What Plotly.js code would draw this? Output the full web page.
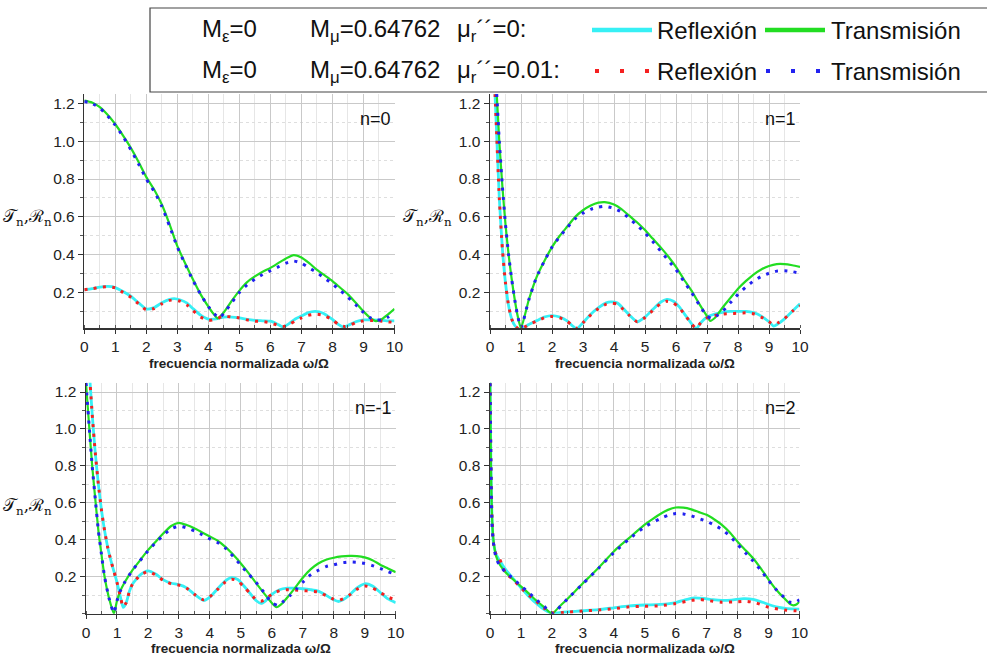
<!DOCTYPE html>
<html>
<head>
<meta charset="utf-8">
<script src="https://cdn.plot.ly/plotly-3.0.1.min.js"></script>
<style>html,body{margin:0;padding:0;background:#fff;}#chart{width:987px;height:656px;}</style>
</head>
<body>
<div id="chart"></div>
<script>
// ---------------- DATA ----------------
// Panel n=0
const xR_n0  = [0,0.25,0.5,0.75,1,1.25,1.5,1.75,2,2.25,2.5,2.75,2.9,3.1,3.3,3.5,3.75,4,4.25,4.5,4.75,5,5.25,5.5,5.75,6,6.2,6.4,6.6,6.8,7,7.2,7.45,7.7,8,8.2,8.35,8.5,8.75,9,9.25,9.5,9.75,10];
const yR_n0  = [0.214,0.22,0.228,0.232,0.226,0.205,0.18,0.145,0.113,0.12,0.145,0.163,0.167,0.16,0.145,0.115,0.08,0.059,0.06,0.07,0.07,0.065,0.057,0.052,0.05,0.048,0.035,0.018,0.035,0.06,0.075,0.092,0.1,0.09,0.057,0.03,0.018,0.025,0.045,0.055,0.055,0.054,0.05,0.05];
const xT_n0  = [0,0.25,0.5,0.75,1,1.25,1.5,1.75,2,2.25,2.5,2.75,3,3.25,3.5,3.75,4,4.15,4.3,4.5,4.75,5,5.25,5.5,5.75,6,6.25,6.5,6.75,7,7.25,7.5,7.75,8,8.25,8.5,8.75,9,9.2,9.4,9.6,9.8,10];
const yT_n0  = [1.215,1.205,1.18,1.14,1.09,1.03,0.965,0.89,0.81,0.745,0.665,0.56,0.445,0.355,0.27,0.19,0.125,0.09,0.063,0.095,0.155,0.21,0.255,0.285,0.31,0.33,0.355,0.38,0.398,0.385,0.355,0.32,0.29,0.26,0.225,0.19,0.145,0.1,0.068,0.048,0.06,0.085,0.113];
const xRl_n0 = [0,0.25,0.5,0.75,1,1.25,1.5,1.75,2,2.25,2.5,2.75,2.9,3.1,3.3,3.5,3.75,4,4.25,4.5,4.75,5,5.25,5.5,5.75,6,6.2,6.4,6.6,6.8,7,7.2,7.45,7.7,8,8.2,8.4,8.6,8.75,9,9.25,9.5,9.75,10];
const yRl_n0 = [0.214,0.22,0.227,0.23,0.224,0.2,0.175,0.14,0.108,0.115,0.14,0.158,0.16,0.153,0.135,0.105,0.07,0.052,0.06,0.075,0.07,0.065,0.055,0.048,0.046,0.04,0.028,0.02,0.03,0.05,0.065,0.078,0.085,0.08,0.055,0.03,0.02,0.03,0.04,0.05,0.052,0.05,0.045,0.042];
const xTl_n0 = [0,0.25,0.5,0.75,1,1.25,1.5,1.75,2,2.25,2.5,2.75,3,3.25,3.5,3.75,4,4.15,4.35,4.5,4.75,5,5.25,5.5,5.75,6,6.25,6.5,6.75,7,7.25,7.5,7.75,8,8.25,8.5,8.75,9,9.2,9.4,9.6,9.8,10];
const yTl_n0 = [1.21,1.2,1.175,1.135,1.085,1.025,0.955,0.88,0.8,0.735,0.655,0.55,0.44,0.35,0.265,0.19,0.125,0.095,0.065,0.09,0.145,0.2,0.24,0.27,0.295,0.315,0.335,0.355,0.366,0.355,0.33,0.305,0.275,0.245,0.21,0.175,0.135,0.095,0.068,0.055,0.055,0.07,0.095];

// Panel n=1
const xR_n1  = [0.15,0.2,0.3,0.4,0.5,0.6,0.7,0.8,0.9,1.0,1.25,1.5,1.75,2,2.25,2.5,2.65,2.8,3,3.25,3.5,3.75,3.9,4.1,4.3,4.5,4.75,5,5.25,5.5,5.7,5.9,6.1,6.3,6.5,6.65,6.8,7,7.25,7.5,7.75,8,8.25,8.5,8.75,9,9.15,9.3,9.5,9.75,10];
const yR_n1  = [1.3,1.1,0.7,0.43,0.25,0.13,0.06,0.025,0.01,0.005,0.03,0.05,0.07,0.078,0.07,0.048,0.025,0.008,0.04,0.085,0.12,0.145,0.15,0.145,0.115,0.08,0.045,0.07,0.11,0.148,0.163,0.155,0.125,0.08,0.035,0.008,0.04,0.07,0.085,0.095,0.1,0.1,0.1,0.093,0.075,0.045,0.022,0.035,0.06,0.1,0.14];
const xT_n1  = [0.2,0.3,0.4,0.5,0.6,0.7,0.8,0.9,1.0,1.25,1.5,1.75,2,2.25,2.5,2.75,3,3.25,3.5,3.7,4,4.25,4.5,4.75,5,5.25,5.5,5.75,6,6.25,6.5,6.75,7,7.1,7.25,7.5,7.75,8,8.25,8.5,8.75,9,9.25,9.5,9.75,10];
const yT_n1  = [1.3,1.0,0.76,0.56,0.4,0.27,0.16,0.07,0.012,0.16,0.28,0.365,0.44,0.5,0.55,0.6,0.635,0.66,0.675,0.678,0.665,0.64,0.605,0.57,0.53,0.485,0.44,0.39,0.335,0.27,0.21,0.14,0.075,0.05,0.065,0.12,0.17,0.22,0.26,0.295,0.322,0.34,0.35,0.35,0.344,0.335];
const xRl_n1 = [0.15,0.2,0.3,0.4,0.5,0.6,0.7,0.8,0.9,1.0,1.25,1.5,1.75,2,2.25,2.5,2.65,2.8,3,3.25,3.5,3.75,3.9,4.1,4.3,4.5,4.75,5,5.25,5.5,5.7,5.9,6.1,6.3,6.5,6.65,6.8,7,7.25,7.5,7.75,8,8.25,8.5,8.75,9,9.15,9.3,9.5,9.75,10];
const yRl_n1 = [1.3,1.1,0.7,0.43,0.25,0.13,0.06,0.025,0.01,0.006,0.03,0.048,0.066,0.073,0.066,0.046,0.025,0.01,0.04,0.082,0.115,0.138,0.143,0.138,0.11,0.078,0.045,0.068,0.105,0.14,0.153,0.147,0.12,0.078,0.035,0.01,0.04,0.065,0.078,0.085,0.088,0.09,0.092,0.087,0.07,0.045,0.03,0.04,0.062,0.1,0.13];
const xTl_n1 = [0.2,0.3,0.4,0.5,0.6,0.7,0.8,0.9,1.0,1.25,1.5,1.75,2,2.25,2.5,2.75,3,3.25,3.5,3.7,4,4.25,4.5,4.75,5,5.25,5.5,5.75,6,6.25,6.5,6.75,7,7.15,7.3,7.5,7.75,8,8.25,8.5,8.75,9,9.25,9.5,9.75,10];
const yTl_n1 = [1.3,1.0,0.76,0.56,0.4,0.27,0.16,0.07,0.015,0.16,0.28,0.365,0.44,0.495,0.545,0.59,0.62,0.64,0.652,0.656,0.645,0.625,0.59,0.555,0.515,0.47,0.42,0.37,0.32,0.26,0.2,0.135,0.075,0.062,0.075,0.1,0.145,0.19,0.228,0.26,0.285,0.302,0.313,0.315,0.31,0.302];

// Panel n=-1
const xR_nm1  = [0.1,0.2,0.3,0.4,0.5,0.6,0.7,0.8,0.9,1.0,1.1,1.2,1.3,1.4,1.5,1.75,2,2.25,2.5,2.75,3,3.25,3.5,3.8,4,4.25,4.5,4.7,4.9,5.1,5.3,5.5,5.65,5.8,6,6.25,6.5,6.75,7,7.25,7.5,7.75,8,8.15,8.3,8.5,8.75,9,9.25,9.5,9.75,10];
const yR_nm1  = [1.33,1.08,0.87,0.7,0.56,0.45,0.36,0.29,0.23,0.17,0.1,0.034,0.06,0.12,0.16,0.21,0.232,0.215,0.183,0.165,0.157,0.14,0.105,0.072,0.09,0.135,0.178,0.195,0.185,0.15,0.11,0.07,0.056,0.07,0.105,0.13,0.138,0.138,0.135,0.13,0.122,0.1,0.075,0.066,0.075,0.1,0.14,0.162,0.15,0.115,0.08,0.06];
const xT_nm1  = [0,0.1,0.2,0.3,0.4,0.5,0.6,0.75,0.9,1.0,1.1,1.25,1.5,1.75,2,2.25,2.5,2.75,3,3.25,3.5,3.75,4,4.25,4.5,4.75,5,5.25,5.5,5.75,6,6.15,6.3,6.5,6.75,7,7.25,7.5,7.75,8,8.25,8.5,8.75,9,9.25,9.5,9.75,10];
const yT_nm1  = [1.25,1.02,0.8,0.62,0.45,0.32,0.2,0.08,0.0,0.07,0.12,0.17,0.236,0.29,0.344,0.39,0.435,0.475,0.492,0.48,0.462,0.44,0.418,0.395,0.362,0.32,0.272,0.22,0.164,0.11,0.058,0.035,0.05,0.088,0.14,0.195,0.24,0.272,0.292,0.303,0.31,0.313,0.312,0.305,0.29,0.265,0.245,0.225];
const xRl_nm1 = [0.1,0.2,0.3,0.4,0.5,0.6,0.7,0.8,0.9,1.0,1.1,1.2,1.3,1.4,1.5,1.75,2,2.25,2.5,2.75,3,3.25,3.5,3.8,4,4.25,4.5,4.7,4.9,5.1,5.3,5.5,5.65,5.8,6,6.25,6.5,6.75,7,7.25,7.5,7.75,8,8.15,8.3,8.5,8.75,9,9.25,9.5,9.75,10];
const yRl_nm1 = [1.33,1.08,0.87,0.7,0.56,0.45,0.36,0.29,0.23,0.17,0.1,0.038,0.06,0.12,0.16,0.208,0.228,0.21,0.18,0.162,0.155,0.138,0.105,0.075,0.092,0.132,0.172,0.187,0.178,0.145,0.11,0.075,0.068,0.078,0.105,0.125,0.13,0.128,0.125,0.122,0.118,0.098,0.078,0.072,0.08,0.1,0.132,0.15,0.14,0.115,0.09,0.075];
const xTl_nm1 = [0,0.1,0.2,0.3,0.4,0.5,0.6,0.75,0.9,1.0,1.1,1.25,1.5,1.75,2,2.25,2.5,2.75,3,3.25,3.5,3.75,4,4.25,4.5,4.75,5,5.25,5.5,5.75,6,6.2,6.4,6.6,6.8,7,7.25,7.5,7.75,8,8.25,8.5,8.75,9,9.25,9.5,9.75,10];
const yTl_nm1 = [1.25,1.02,0.8,0.62,0.45,0.32,0.2,0.08,0.005,0.07,0.12,0.17,0.235,0.288,0.34,0.385,0.425,0.46,0.474,0.465,0.448,0.428,0.405,0.385,0.355,0.31,0.262,0.215,0.168,0.115,0.06,0.045,0.07,0.1,0.135,0.17,0.21,0.235,0.255,0.265,0.275,0.28,0.278,0.272,0.26,0.245,0.228,0.213];

// Panel n=2
const xR_n2  = [0,0.03,0.06,0.1,0.15,0.2,0.3,0.4,0.5,0.75,1,1.25,1.5,1.75,2,2.25,2.5,3,3.5,4,4.5,5,5.5,6,6.3,6.6,6.9,7.2,7.5,7.8,8.2,8.5,8.8,9,9.3,9.6,10];
const yR_n2  = [1.3,0.8,0.55,0.4,0.35,0.32,0.29,0.265,0.24,0.19,0.14,0.095,0.055,0.022,0.003,0.006,0.01,0.016,0.022,0.032,0.042,0.047,0.05,0.06,0.075,0.086,0.083,0.076,0.072,0.074,0.082,0.078,0.062,0.05,0.035,0.027,0.025];
const xT_n2  = [0,0.03,0.06,0.1,0.15,0.2,0.3,0.4,0.5,0.75,1,1.25,1.5,1.75,2,2.25,2.5,2.75,3,3.25,3.5,3.75,4,4.25,4.5,4.75,5,5.25,5.5,5.75,6,6.25,6.5,6.75,7,7.25,7.5,7.75,8,8.25,8.5,8.75,9,9.25,9.5,9.7,9.8,9.9,10];
const yT_n2  = [1.3,0.8,0.55,0.42,0.35,0.31,0.27,0.245,0.225,0.185,0.148,0.11,0.07,0.035,0.0,0.04,0.08,0.122,0.165,0.205,0.247,0.292,0.337,0.375,0.41,0.447,0.482,0.512,0.54,0.562,0.575,0.574,0.565,0.55,0.535,0.51,0.48,0.44,0.39,0.345,0.3,0.245,0.185,0.13,0.085,0.052,0.045,0.05,0.065];
const xRl_n2 = [0,0.03,0.06,0.1,0.15,0.2,0.3,0.5,0.75,1,1.25,1.5,1.75,2,2.5,3,3.5,4,4.5,5,5.5,6,6.5,6.8,7,7.5,8,8.3,8.6,9,9.5,10];
const yRl_n2 = [1.3,0.8,0.55,0.4,0.34,0.32,0.3,0.22,0.185,0.14,0.1,0.065,0.03,0.005,0.008,0.015,0.02,0.027,0.037,0.04,0.043,0.055,0.072,0.077,0.072,0.062,0.065,0.067,0.058,0.035,0.02,0.015];
const xTl_n2 = [0,0.03,0.06,0.1,0.15,0.2,0.3,0.5,0.75,1,1.25,1.5,1.75,2,2.5,3,3.5,4,4.5,5,5.5,5.75,6,6.25,6.5,6.75,7,7.25,7.5,7.75,8,8.25,8.5,8.75,9,9.25,9.5,9.7,9.85,10];
const yTl_n2 = [1.3,0.8,0.5,0.4,0.34,0.3,0.265,0.225,0.19,0.15,0.115,0.075,0.04,0.0,0.08,0.162,0.245,0.33,0.405,0.47,0.515,0.532,0.542,0.54,0.53,0.515,0.5,0.48,0.455,0.42,0.375,0.33,0.285,0.235,0.18,0.13,0.09,0.062,0.06,0.075];

const panelLabels = ['n=0','n=1','n=-1','n=2'];
const xTickVals = [0,1,2,3,4,5,6,7,8,9,10];
const yTickVals = [0.2,0.4,0.6,0.8,1.0,1.2];
const xTitleText = '<b>frecuencia normalizada ω/Ω</b>';
const yTitleText = '𝒯<sub>n</sub>,ℛ<sub>n</sub>';
const legendRow1 = ['M<sub>ε</sub>=0','M<sub>μ</sub>=0.64762','μ<sub>r</sub>´´=0:','Reflexión','Transmisión'];
const legendRow2 = ['M<sub>ε</sub>=0','M<sub>μ</sub>=0.64762','μ<sub>r</sub>´´=0.01:','Reflexión','Transmisión'];

// ---------------- STYLE ----------------
const C_R = '#36F0F5', C_T = '#22DD22', C_RL = '#F52020', C_TL = '#2222F0';
const DOT = '3px,6.4px';
const FONT = 'Liberation Sans, Arial, sans-serif';

const panels = [
  {xs:[xR_n0,xT_n0,xRl_n0,xTl_n0], ys:[yR_n0,yT_n0,yRl_n0,yTl_n0]},
  {xs:[xR_n1,xT_n1,xRl_n1,xTl_n1], ys:[yR_n1,yT_n1,yRl_n1,yTl_n1]},
  {xs:[xR_nm1,xT_nm1,xRl_nm1,xTl_nm1], ys:[yR_nm1,yT_nm1,yRl_nm1,yTl_nm1]},
  {xs:[xR_n2,xT_n2,xRl_n2,xTl_n2], ys:[yR_n2,yT_n2,yRl_n2,yTl_n2]}
];
const lineStyles = [
  {color:C_R, width:2.8},
  {color:C_T, width:2.2},
  {color:C_RL, width:3, dash:DOT},
  {color:C_TL, width:3, dash:DOT}
];

const traces = [];
panels.forEach((p, i) => {
  const sfx = i === 0 ? '' : String(i+1);
  for (let k = 0; k < 4; k++) {
    traces.push({
      x: p.xs[k], y: p.ys[k], type:'scatter', mode:'lines',
      line: Object.assign({shape:'spline', smoothing:0.6}, lineStyles[k]),
      xaxis:'x'+sfx, yaxis:'y'+sfx, showlegend:false, hoverinfo:'skip'
    });
  }
});

// domains in pixels
const W = 987, H = 656;
const doms = [
  {x:[84.3,394.5], y:[94,328], yr:[0.012,1.25]},
  {x:[490,800], y:[94,328], yr:[0.012,1.25]},
  {x:[86,395.7], y:[382.8,613.7], yr:[0,1.25]},
  {x:[490,799.5], y:[382.8,613.7], yr:[0,1.25]}
];

const layout = {
  width:W, height:H, margin:{l:0,r:0,t:0,b:0},
  paper_bgcolor:'#fff', plot_bgcolor:'#fff',
  font:{family:FONT, color:'#222'},
  showlegend:false,
  shapes:[], annotations:[]
};

doms.forEach((d, i) => {
  const sfx = i === 0 ? '' : String(i+1);
  layout['xaxis'+sfx] = {
    domain:[d.x[0]/W, d.x[1]/W], range:[0,10], anchor:'y'+sfx,
    tickvals:xTickVals, ticktext:xTickVals.map(String),
    ticks:'outside', ticklen:4, tickcolor:'#333', tickwidth:1,
    tickfont:{size:15.5, color:'#222', family:FONT},
    showline:true, linecolor:'#333', linewidth:1.5, zeroline:false,
    showgrid:true, gridcolor:'#c9c9c9', gridwidth:1,
    minor:{dtick:0.5, tick0:0, showgrid:true, gridcolor:'#e6e6e6', ticks:'inside', ticklen:3, tickcolor:'#555'},
    fixedrange:true
  };
  layout['yaxis'+sfx] = {
    domain:[1-d.y[1]/H, 1-d.y[0]/H], range:d.yr, anchor:'x'+sfx,
    tickvals:yTickVals, ticktext:yTickVals.map(v=>v.toFixed(1)),
    ticks:'outside', ticklen:5, tickcolor:'#333', tickwidth:1,
    tickfont:{size:15.5, color:'#222', family:FONT},
    showline:true, linecolor:'#333', linewidth:1.5, zeroline:false,
    showgrid:true, gridcolor:'#c9c9c9', gridwidth:1,
    minor:{dtick:0.1, tick0:0, showgrid:true, gridcolor:'#dedede', griddash:'dot', ticks:'outside', ticklen:3, tickcolor:'#555'},
    fixedrange:true
  };
  // panel label
  layout.annotations.push({
    xref:'paper', yref:'paper', x:(d.x[1]-2)/W, y:1-(d.y[0]+25)/H,
    xanchor:'right', yanchor:'middle', text:panelLabels[i], showarrow:false,
    font:{size:18, color:'#111', family:FONT}
  });
  // x title
  layout.annotations.push({
    xref:'paper', yref:'paper', x:((d.x[0]+d.x[1])/2)/W, y:1-(d.y[1]+35)/H,
    xanchor:'center', yanchor:'middle', text:xTitleText, showarrow:false,
    font:{size:13.5, color:'#222', family:FONT}
  });
});

// y titles (left panels and top-right)
[[54,218],[454,218],[54,506]].forEach(p => {
  layout.annotations.push({
    xref:'paper', yref:'paper', x:p[0]/W, y:1-p[1]/H,
    xanchor:'right', yanchor:'middle', text:yTitleText, showarrow:false,
    font:{size:17, color:'#111', family:'DejaVu Serif, Noto Sans, serif'}
  });
});

// Legend box
layout.shapes.push({type:'rect', xref:'paper', yref:'paper', x0:150/W, x1:992/W, y0:1-92/H, y1:1-8/H,
  line:{color:'#444', width:1.2}, fillcolor:'#fff', layer:'above'});
// legend samples
layout.shapes.push({type:'line', xref:'paper', yref:'paper', x0:592/W, x1:652/W, y0:1-30/H, y1:1-30/H, line:{color:C_R, width:4.5}, layer:'above'});
layout.shapes.push({type:'line', xref:'paper', yref:'paper', x0:765/W, x1:825/W, y0:1-30/H, y1:1-30/H, line:{color:C_T, width:4.5}, layer:'above'});
layout.shapes.push({type:'line', xref:'paper', yref:'paper', x0:595/W, x1:652/W, y0:1-71/H, y1:1-71/H, line:{color:C_RL, width:4, dash:'4px,21px'}, layer:'above'});
layout.shapes.push({type:'line', xref:'paper', yref:'paper', x0:766/W, x1:825/W, y0:1-71/H, y1:1-71/H, line:{color:C_TL, width:4, dash:'4px,21px'}, layer:'above'});

const legX = [200,308,455,655,829];
[[legendRow1,30],[legendRow2,71]].forEach(r => {
  r[0].forEach((t, j) => {
    layout.annotations.push({
      xref:'paper', yref:'paper', x:legX[j]/W, y:1-r[1]/H,
      xanchor:'left', yanchor:'middle', text:t, showarrow:false,
      font:{size:24, color:'#111', family:FONT}
    });
  });
});

Plotly.newPlot('chart', traces, layout, {displayModeBar:false, staticPlot:true});
</script>
</body>
</html>
